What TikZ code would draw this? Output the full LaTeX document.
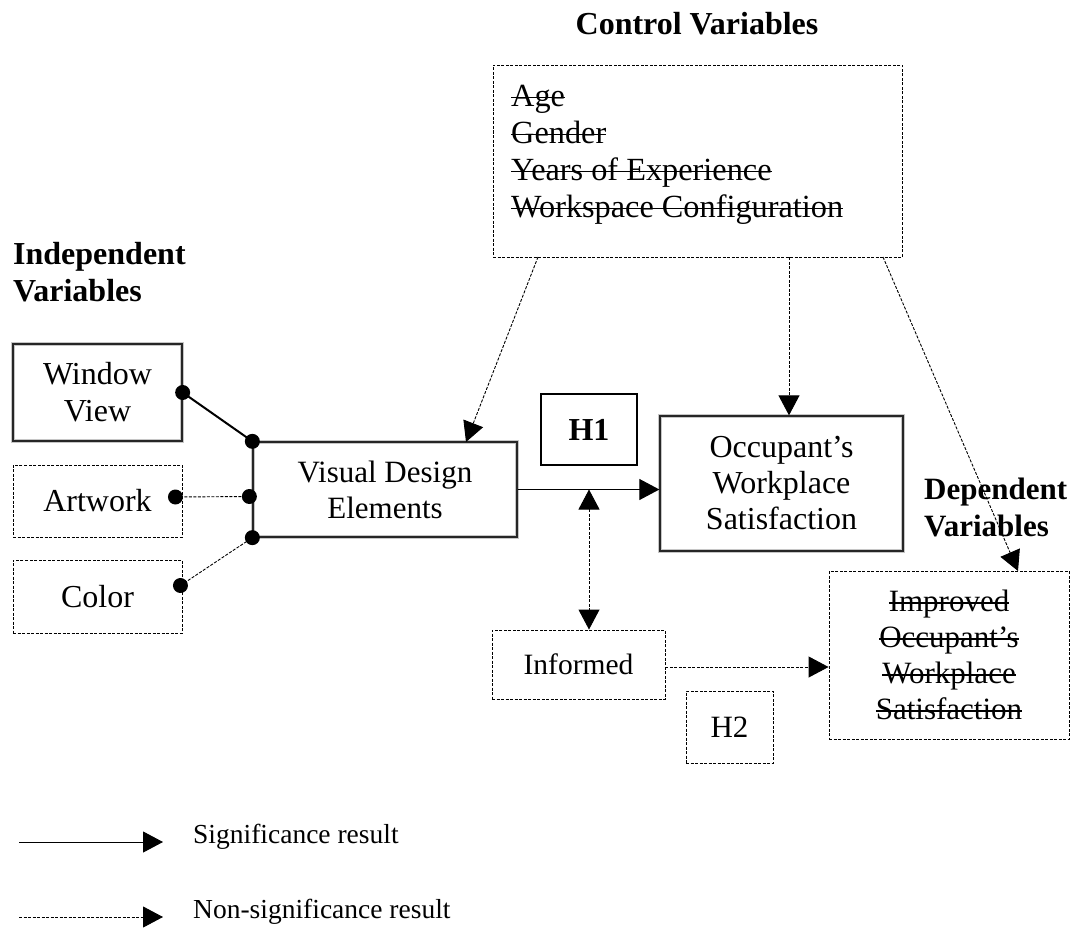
\documentclass[tikz,border=0pt]{standalone}
\usepackage{fontspec}
\setmainfont{Liberation Serif}
\newcommand\mystrk[1]{\setbox0=\hbox{#1}\rlap{\raisebox{0.26em}{\rule{\wd0}{1.6pt}}}\box0}
\usetikzlibrary{arrows.meta,calc}
\tikzset{
  txt/.style={font=\fontsize{31}{36}\selectfont, inner sep=0pt},
  btxt/.style={font=\fontsize{32}{37}\selectfont\bfseries, inner sep=0pt},
  solidbox/.style={draw=black!85, line width=1.3pt, preaction={draw=gray!45, line width=4pt}, align=center, txt},
  dashbox/.style={draw, line width=0.9pt, dash pattern=on 3pt off 1.5pt, align=center, txt},
  dashln/.style={line width=0.9pt, dash pattern=on 3pt off 1.5pt},
  tip/.style={-{Triangle[length=20pt,width=21pt]}},
  dbltip/.style={{Triangle[length=20pt,width=21pt]}-{Triangle[length=20pt,width=21pt]}},
  dot/.style={circle, fill=black, minimum size=15pt, inner sep=0pt},
  legtxt/.style={font=\fontsize{27.5}{33}\selectfont, inner sep=0pt},
}
\begin{document}
\begin{tikzpicture}[x=1pt,y=-1pt]
\useasboundingbox (0,0) rectangle (1078,928);

% titles
\node[btxt] (ctitle) at (697,24) {Control Variables};
\node[btxt, anchor=west, align=left] (ititle) at (13,272) {Independent\\Variables};
\node[btxt, anchor=west, align=left, font=\fontsize{31}{37}\selectfont\bfseries] (dtitle) at (924,507) {Dependent\\Variables};

% boxes
\node[solidbox, minimum width=169pt, minimum height=97pt, font=\fontsize{32}{37}\selectfont] (win) at (97.5,392.5) {Window\\View};
\node[dashbox, minimum width=169pt, minimum height=72pt, font=\fontsize{32}{37}\selectfont] (art) at (97.5,501) {Artwork};
\node[dashbox, minimum width=169pt, minimum height=73pt, font=\fontsize{32}{37}\selectfont] (col) at (97.5,596.5) {Color};
\node[solidbox, minimum width=264pt, minimum height=95pt] (vde) at (385,489.5) {Visual Design\\Elements};
\node[draw, line width=2.6pt, minimum width=96pt, minimum height=71pt, btxt] (h1) at (589,429.5) {H1};
\node[solidbox, minimum width=243pt, minimum height=135pt, font=\fontsize{32}{36}\selectfont] (occ) at (781.5,483.5) {Occupant’s\\Workplace\\Satisfaction};
\node[dashbox, minimum width=173pt, minimum height=69pt, font=\fontsize{29.5}{35}\selectfont] (inf) at (578.5,664.5) {Informed};
\node[dashbox, minimum width=87pt, minimum height=72pt] (h2) at (729.5,727) {H2};
\node[dashbox, minimum width=240pt, minimum height=168pt] (imp) at (949,655)
  {\mystrk{Improved}\\\mystrk{Occupant’s}\\\mystrk{Workplace}\\\mystrk{Satisfaction}};
\node[dashbox, minimum width=409pt, minimum height=192pt] (ctl) at (697.5,161) {};
\node[txt, font=\fontsize{32.3}{37}\selectfont, anchor=west, align=left] (ctltext) at (511,155)
  {\mystrk{Age}\\\mystrk{Gender}\\\mystrk{Years of Experience}\\\mystrk{Workspace Configuration}};

% dots
\coordinate (wd) at (win.east);
\coordinate (ad) at ($(art.east)+(-7,-4)$);
\coordinate (cd) at ($(col.east)+(-2,-11)$);
\coordinate (v1) at (vde.north west);
\coordinate (v2) at ($(vde.west)+(-3,7)$);
\coordinate (v3) at (vde.south west);
\draw[line width=2pt] (wd) -- (v1);
\draw[dashln] (ad) -- (v2);
\draw[dashln] (cd) -- (v3);
\foreach \p in {wd,ad,cd,v1,v2,v3} \node[dot] at (\p) {};

% main arrow
\draw[tip, line width=1pt] (vde.east) -- (vde.east -| occ.west);
\coordinate (mid) at (589,489.5);
\draw[dashln, dbltip] (mid) -- (inf.north -| mid);

% control arrows
\coordinate (c1) at (538,257);
\coordinate (c1e) at (466,442);
\coordinate (c2) at (789,257);
\coordinate (c3) at (883,257);
\coordinate (c3e) at (1018,571);
\draw[dashln, tip] (c1) -- (c1e);
\draw[dashln, tip] (c2) -- (c2 |- occ.north);
\draw[dashln, tip] (c3) -- (c3e);

% informed to improved
\coordinate (ie) at ($(inf.east)+(0,2.5)$);
\draw[dashln, tip] (ie) -- (ie -| imp.west);

% legend
\coordinate (l1a) at (19,842);
\coordinate (l1b) at (163,842);
\coordinate (l2a) at (19,917);
\coordinate (l2b) at (163,917);
\draw[tip, line width=1pt] (l1a) -- (l1b);
\draw[dashln, tip] (l2a) -- (l2b);
\node[legtxt, anchor=west] (lg1) at (193,837) {Significance result};
\node[legtxt, anchor=west] (lg2) at (193,912) {Non-significance result};
\end{tikzpicture}
\end{document}
